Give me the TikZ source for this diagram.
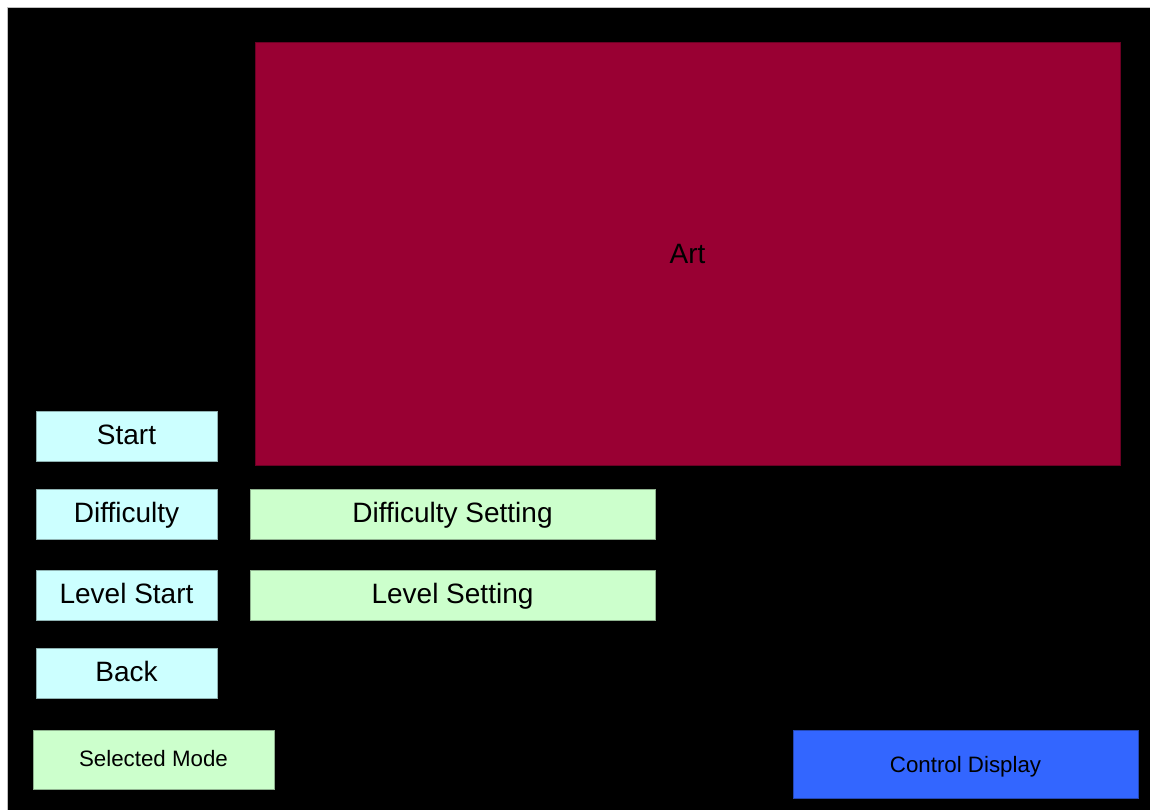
\documentclass[tikz,border=0pt]{standalone}
\usepackage{fontspec}
\setmainfont{Liberation Sans}
\definecolor{artred}{HTML}{990033}
\definecolor{menucyan}{HTML}{CCFFFF}
\definecolor{setgreen}{HTML}{CCFFCC}
\definecolor{ctrlblue}{HTML}{3366FF}
\begin{document}
\begin{tikzpicture}[x=1pt,y=-1pt,
  panel/.style={draw=#1!70!black, line width=0.8pt, inner sep=0pt, outer sep=0pt,
    anchor=north west, text=black, text depth=0pt},
  bigtext/.style={font=\fontsize{28}{34}\selectfont, text height=17pt},
  smalltext/.style={font=\fontsize{22.3}{27}\selectfont, text height=14pt},
  menubtn/.style={panel=menucyan, fill=menucyan, minimum width=181pt, minimum height=50pt, bigtext},
  setbox/.style={panel=setgreen, fill=setgreen, minimum width=405pt, minimum height=50pt, bigtext}]
  % page frame
  \useasboundingbox (0,0) rectangle (1150,809);
  \fill[white] (0,0) rectangle (1150,809);
  \filldraw[fill=black, draw=black!25, line width=0.8pt] (7,7) rectangle (1151,810);
  % artwork area
  \node[panel=artred, fill=artred, minimum width=865pt, minimum height=423pt, bigtext, text height=20pt] (art) at (255,42) {Art};
  % menu buttons
  \node[menubtn] (start) at (36,411) {Start};
  \node[menubtn] (difficulty) at (36,489) {Difficulty};
  \node[menubtn] (levelstart) at (36,570) {Level Start};
  \node[menubtn] (back) at (36,648) {Back};
  % settings
  \node[setbox] (diffset) at (250,489) {Difficulty Setting};
  \node[setbox] (levelset) at (250,570) {Level Setting};
  % status boxes
  \node[panel=setgreen, fill=setgreen, minimum width=241pt, minimum height=59pt, smalltext] (mode) at (33,730) {Selected Mode};
  \node[panel=ctrlblue, fill=ctrlblue, minimum width=345pt, minimum height=68pt, smalltext, text height=16pt] (ctrl) at (793,730) {Control Display};
\end{tikzpicture}
\end{document}
